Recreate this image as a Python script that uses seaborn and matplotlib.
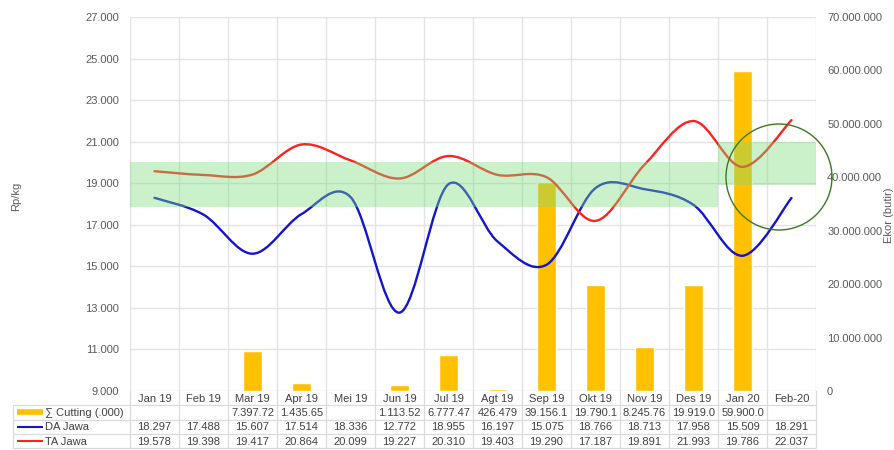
import numpy as np
import pandas as pd
import matplotlib
matplotlib.use("Agg")
import matplotlib.pyplot as plt
import seaborn as sns
from matplotlib.path import Path
from matplotlib.patches import PathPatch, Ellipse

# ---- data ----
months = ["Jan 19", "Feb 19", "Mar 19", "Apr 19", "Mei 19", "Jun 19", "Jul 19",
          "Agt 19", "Sep 19", "Okt 19", "Nov 19", "Des 19", "Jan 20", "Feb-20"]
cutting_k = [np.nan, np.nan, 7397.72, 1435.65, np.nan, 1113.52, 6777.47,
             426.479, 39156.1, 19790.1, 8245.76, 19919.0, 59900.0, np.nan]
da_jawa = [18297, 17488, 15607, 17514, 18336, 12772, 18955,
           16197, 15075, 18766, 18713, 17958, 15509, 18291]
ta_jawa = [19578, 19398, 19417, 20864, 20099, 19227, 20310,
           19403, 19290, 17187, 19891, 21993, 19786, 22037]
# reference price bands (Rp/kg) for 2019 and for 2020
band_2019 = (17850, 20000)
band_2020 = (18900, 21000)

left_ticks = list(range(9000, 27001, 2000))
right_ticks = list(range(0, 70_000_001, 10_000_000))

BAR_C = "#FFC000"
DA_C = "#1414C8"
TA_C = "#FF2020"
TXT = "#595959"
GRID = "#E3E3E3"

sns.set_theme(style="white")
plt.rcParams["font.family"] = ["Liberation Sans", "DejaVu Sans"]


def dot_fmt(v):
    return f"{v:,}".replace(",", ".")


def cut_fmt(v):
    if np.isnan(v):
        return ""
    return f"{v:,.3f}".replace(",", ".")[:8]


def smooth_path(ys):
    """Bezier path through the points (smoothed line, Catmull-Rom style)."""
    P = np.column_stack([np.arange(len(ys)), np.asarray(ys, float)])
    n = len(P)
    verts = [tuple(P[0])]
    codes = [Path.MOVETO]
    for i in range(n - 1):
        p0 = P[max(i - 1, 0)]
        p3 = P[min(i + 2, n - 1)]
        c1 = P[i] + (P[i + 1] - p0) / 6.0
        c2 = P[i + 1] - (p3 - P[i]) / 6.0
        verts += [tuple(c1), tuple(c2), tuple(P[i + 1])]
        codes += [Path.CURVE4] * 3
    return Path(verts, codes)


W, H = 895, 450
fig = plt.figure(figsize=(W / 100, H / 100), dpi=100)
L, R, T, B = 130, 816, 17, 391
ax = fig.add_axes([L / W, 1 - B / H, (R - L) / W, (B - T) / H])
ax2 = ax.twinx()
ax3 = ax.twinx()

xlim = (-0.5, len(months) - 0.5)

# left axis: grid and labels
ax.set_xlim(*xlim)
ax.set_ylim(left_ticks[0], left_ticks[-1])
ax.set_yticks(left_ticks)
ax.set_yticklabels([dot_fmt(t) for t in left_ticks])
ax.set_xticks([])
ax.set_xticks(np.arange(-0.5, len(months), 1.0), minor=True)
ax.tick_params(axis="y", length=0, pad=8, labelsize=8, labelcolor=TXT)
ax.tick_params(axis="x", which="both", length=0, labelbottom=False)
ax.grid(True, axis="y", color=GRID, lw=1)
ax.grid(True, axis="x", which="minor", color=GRID, lw=1)
for s in ax.spines.values():
    s.set_visible(False)
ax.set_ylabel("Rp/kg", fontsize=8, color=TXT, labelpad=0)
ax.yaxis.set_label_coords(-109 / (R - L), 0.52)

# right axis: cutting bars
df_cut = pd.DataFrame({"bulan": months, "cutting": np.array(cutting_k) * 1000})
sns.barplot(data=df_cut, x="bulan", y="cutting", order=months, color=BAR_C,
            saturation=1, width=0.4, ax=ax2)
ax2.set_xlim(*xlim)
ax2.set_ylim(0, 70_000_000)
ax2.set_yticks(right_ticks)
ax2.set_yticklabels([dot_fmt(t) for t in right_ticks])
ax2.tick_params(axis="y", length=0, pad=8, labelsize=8, labelcolor=TXT)
ax2.set_xlabel("")
ax2.set_ylabel("Ekor (butir)", fontsize=8, color=TXT)
ax2.yaxis.set_label_coords((884 - L) / (R - L), 0.47)
ax2.set_xticks([])
for s in ax2.spines.values():
    s.set_visible(False)

# price lines and bands
ax3.set_xlim(*xlim)
ax3.set_ylim(left_ticks[0], left_ticks[-1])
ax3.set_yticks([])
ax3.set_xticks([])
for s in ax3.spines.values():
    s.set_visible(False)
for ys, c in [(da_jawa, DA_C), (ta_jawa, TA_C)]:
    ax3.add_patch(PathPatch(smooth_path(ys), fill=False, edgecolor=c, lw=1.7,
                            capstyle="round", zorder=3))
ax3.fill_between([-0.5, 11.5], *band_2019, color="#7DDC7D", alpha=0.4,
                 lw=0, zorder=5)
ax3.fill_between([11.5, 13.5], *band_2020, color="#7DDC7D", alpha=0.4,
                 lw=0, zorder=5)

# highlight ring
fig.add_artist(Ellipse((779 / W, 1 - 177 / H), 106 / W, 106 / H,
                       transform=fig.transFigure, fill=False,
                       edgecolor="#3C7A1E", lw=1.0))

# ---- data table below the plot ----
TL, TB = 13, 448
axt = fig.add_axes([TL / W, 1 - TB / H, (R - TL) / W, (TB - B) / H])
label_w = (L - TL) / ((R - L) / len(months))
axt.set_xlim(xlim[0] - label_w, xlim[1])
axt.set_ylim(4, 0)
axt.axis("off")

lc = "#DADADA"
x0 = xlim[0] - label_w
for r in range(1, 5):
    axt.plot([x0, xlim[1]], [r, r], color=lc, lw=0.9, clip_on=False)
for k in range(len(months) + 1):
    axt.plot([k - 0.5, k - 0.5], [0, 4], color=lc, lw=0.9, clip_on=False)
axt.plot([x0, x0], [1, 4], color=lc, lw=0.9, clip_on=False)

TC = "#404040"
for i, m in enumerate(months):
    axt.text(i, 0.55, m, ha="center", va="center", fontsize=8, color=TC)
    axt.text(i, 1.55, cut_fmt(cutting_k[i]), ha="center", va="center",
             fontsize=8, color=TC)
    axt.text(i, 2.55, dot_fmt(da_jawa[i]), ha="center", va="center",
             fontsize=8, color=TC)
    axt.text(i, 3.55, dot_fmt(ta_jawa[i]), ha="center", va="center",
             fontsize=8, color=TC)

unit = (R - L) / len(months)
sx0 = x0 + 4 / unit
sx1 = x0 + 30 / unit
tx = x0 + 32 / unit
axt.plot([sx0, sx1], [1.5, 1.5], color=BAR_C, lw=4, solid_capstyle="butt")
axt.plot([sx0, sx1], [2.5, 2.5], color=DA_C, lw=1.5, solid_capstyle="butt")
axt.plot([sx0, sx1], [3.5, 3.5], color=TA_C, lw=1.5, solid_capstyle="butt")
axt.text(tx, 1.55, "∑ Cutting (.000)", ha="left", va="center", fontsize=8, color=TC)
axt.text(tx, 2.55, "DA Jawa", ha="left", va="center", fontsize=8, color=TC)
axt.text(tx, 3.55, "TA Jawa", ha="left", va="center", fontsize=8, color=TC)

fig.savefig("out.png", dpi=100)
